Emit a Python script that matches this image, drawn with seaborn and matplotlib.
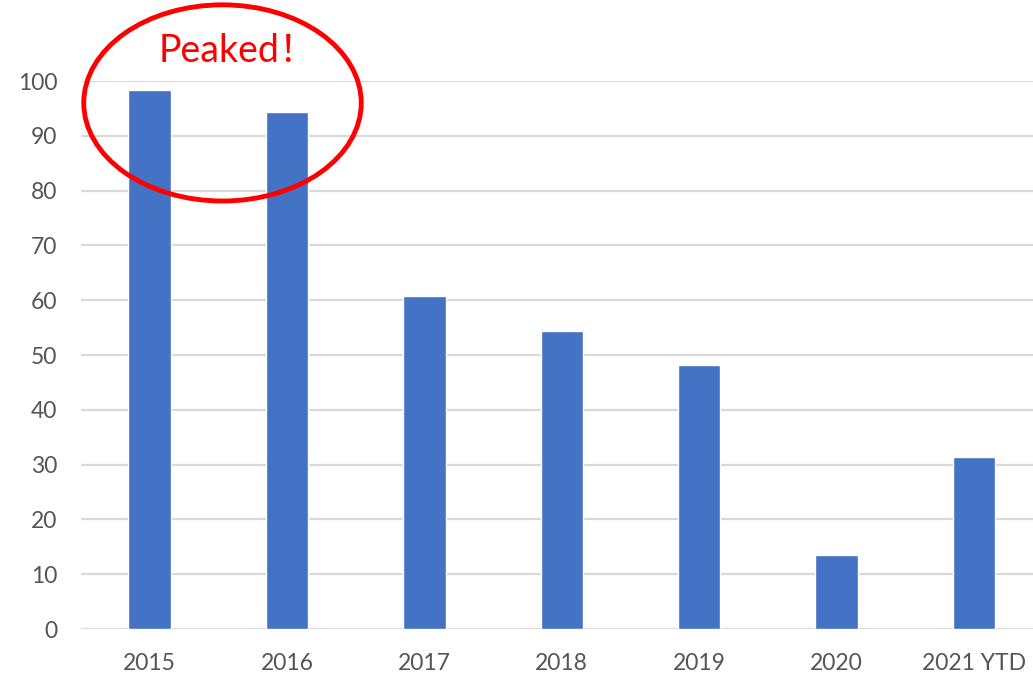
import matplotlib
matplotlib.use("Agg")
import matplotlib.pyplot as plt
from matplotlib.patches import Ellipse
import seaborn as sns
import pandas as pd

categories = ["2015", "2016", "2017", "2018", "2019", "2020", "2021 YTD"]
values = [98.4, 94.3, 60.8, 54.4, 48.2, 13.5, 31.4]
yticks = [0, 10, 20, 30, 40, 50, 60, 70, 80, 90, 100]
annotation_text = "Peaked！"

sns.set_theme(style="white")
plt.rcParams['font.family'] = ['Lato', 'Noto Sans CJK SC', 'DejaVu Sans']

df = pd.DataFrame({"year": categories, "value": values})

fig = plt.figure(figsize=(10.33, 6.78), dpi=100)
ax = fig.add_axes([81 / 1033, 1 - 629 / 678, 1 - 81 / 1033, (629 - 81) / 678])

sns.barplot(data=df, x="year", y="value", color="#4472C4", saturation=1,
            width=0.31, ax=ax, zorder=3)

ax.set_ylim(0, 100)
ax.set_xlim(-0.5, 6.43)
ax.set_yticks(yticks)
ax.set_yticklabels([str(v) for v in yticks])
ax.grid(axis="y", color="#D9D9D9", linewidth=1.6, zorder=0)
ax.grid(axis="x", visible=False)
ax.set_axisbelow(True)
for s in ax.spines.values():
    s.set_visible(False)
ax.set_xlabel("")
ax.set_ylabel("")
ax.tick_params(axis="y", length=0, pad=17, labelsize=16.5, labelcolor="#555555")
ax.tick_params(axis="x", length=0, pad=17, labelsize=16.5, labelcolor="#555555")

ell = Ellipse((0.53, 96), width=2.02, height=35.8, fill=False,
              edgecolor="#FF0000", linewidth=3.5, clip_on=False, zorder=5)
ax.add_patch(ell)
ax.text(0.64, 105.4, annotation_text, color="#FF0000", fontsize=27,
        ha="center", va="center", clip_on=False, zorder=6)

fig.savefig("out.png", dpi=100)
